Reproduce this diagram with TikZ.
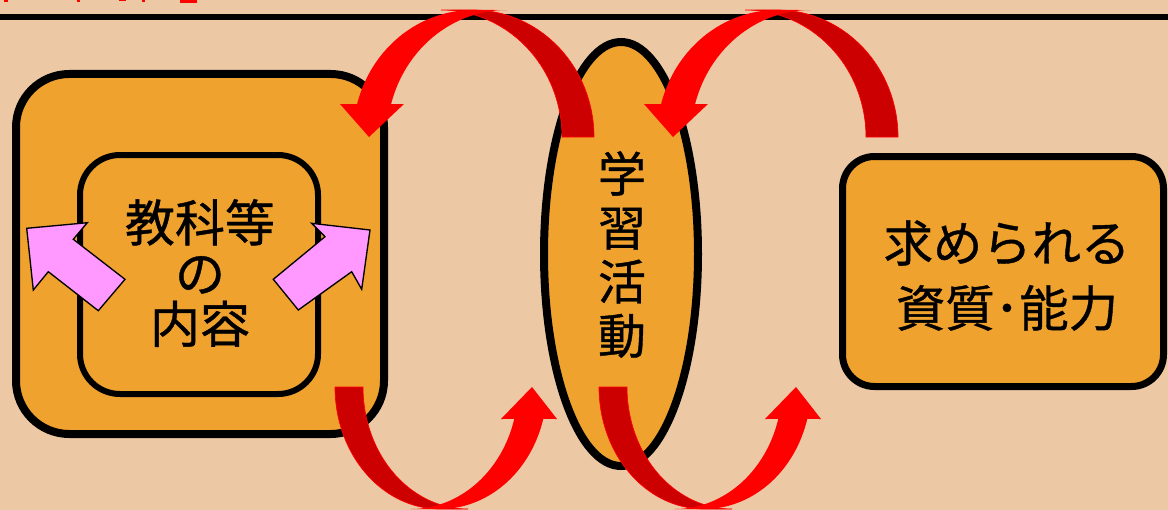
\documentclass[tikz,border=0pt]{standalone}
\usepackage{fontspec}
\newfontfamily\jp[FakeBold=0.8]{Noto Sans CJK JP}
\usetikzlibrary{shapes.geometric}
\definecolor{bgtan}{HTML}{EDC8A5}
\definecolor{boxorange}{HTML}{F0A22E}
\definecolor{darkred}{HTML}{CC0000}
\definecolor{pinkarrow}{HTML}{FF99FF}
\newcommand\curvedtop[2]{%
\begin{scope}[shift={(#1,#2)}]
 \fill[darkred, draw=red, line width=0.5pt] plot[domain=270:360,samples=60] ({121*cos(\x)},{127*sin(\x)}) -- plot[domain=360:270,samples=60] ({-32+121*cos(\x)},{127*sin(\x)}) -- cycle;
 \fill[red] plot[domain=270:195,samples=60] ({120*cos(\x)},{127*sin(\x)}) -- (-133,-33) -- (-104,0) -- (-69,-33) -- plot[domain=195:270,samples=60] ({34+120*cos(\x)},{127*sin(\x)}) -- cycle;
\end{scope}}
\newcommand\curvedbottom[2]{%
\begin{scope}[shift={(#1,#2)}]
 \fill[darkred, draw=red, line width=0.5pt] plot[domain=180:90,samples=60] ({105*cos(\x)},{122*sin(\x)}) -- plot[domain=90:180,samples=60] ({28+105*cos(\x)},{122*sin(\x)}) -- cycle;
 \fill[red] plot[domain=90:15.2,samples=60] ({107*cos(\x)},{122*sin(\x)}) -- (117,32) -- (92,0) -- (61,32) -- plot[domain=15.2:90,samples=60] ({-29+107*cos(\x)},{122*sin(\x)}) -- cycle;
\end{scope}}
\begin{document}
\begin{tikzpicture}[x=0.75pt,y=-0.75pt,
  boxstyle/.style={draw=black, fill=boxorange, inner sep=0pt},
  jptext/.style={font=\jp\fontsize{36pt}{40.5pt}\selectfont, align=center, inner sep=0pt, text=black},
  pinkblock/.style={fill=pinkarrow, draw=black, line width=1pt, line join=miter}]
\fill[bgtan] (0,0) rectangle (1168,510);
\useasboundingbox (0,0) rectangle (1168,510);
% cut-off red heading fragments at top
\fill[red] (4,0) rectangle (8,2.5);
\fill[red] (77,0) rectangle (80,2.5);
\fill[red] (119,0) rectangle (126,1.5);
\fill[red] (142,0) rectangle (145,2.5);
\fill[red] (180,0) rectangle (197,3.3);
% rule
\draw[line width=4.2pt] (0,17.3) -- (1168,17.3);
% boxes
\node[boxstyle, line width=6pt, rounded corners=40pt, minimum width=276pt, minimum height=270pt] (outer) at (200,254) {};
\node[boxstyle, line width=4.5pt, rounded corners=30pt, minimum width=178.5pt, minimum height=179.25pt] (inner) at (199,274.5) {};
\node[boxstyle, ellipse, line width=6pt, minimum width=115.5pt, minimum height=318pt] (activity) at (621,254) {};
\node[boxstyle, line width=5.25pt, rounded corners=24pt, minimum width=240.75pt, minimum height=172.5pt] (goal) at (1003,271.5) {};
% pink block arrows
\filldraw[pinkblock] (26.7,228.3) -- (87.3,222.7) -- (73.3,239.3) -- (125,279.3) -- (98.3,310.7) -- (48.3,271.7) -- (33.3,290) -- cycle;
\filldraw[pinkblock] (370,230) -- (311.7,223.3) -- (325,236.7) -- (273.3,279.3) -- (298.3,310) -- (351.7,271.7) -- (361.7,289.3) -- cycle;
% texts
\node[jptext, font=\jp\fontsize{37.5pt}{38pt}\selectfont] (contenttext) at (200,273) {教科等\\の\\内容};
\node[jptext] (activitytext) at (622,254.5) {学\\習\\活\\動};
\node[jptext, font=\jp\fontsize{37pt}{48.75pt}\selectfont] (goaltext) at (1007,275.5) {求められる\\資質･能力};
% red curved arrows
\curvedtop{473}{137}
\curvedtop{777}{137}
\curvedbottom{440}{387}
\curvedbottom{704}{387}
\end{tikzpicture}
\end{document}
